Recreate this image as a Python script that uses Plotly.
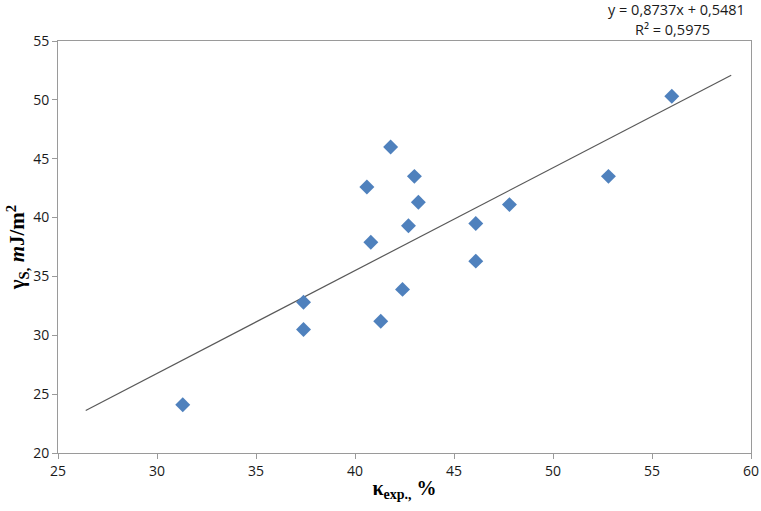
import plotly.graph_objects as go

# Data
kappa_exp = [31.3, 37.4, 37.4, 40.6, 40.8, 41.3, 41.8, 42.4, 42.7, 43.0, 43.2, 46.1, 46.1, 47.8, 52.8, 56.0]
gamma_s   = [24.1, 30.5, 32.8, 42.6, 37.9, 31.2, 46.0, 33.9, 39.3, 43.5, 41.3, 39.5, 36.3, 41.1, 43.5, 50.3]

# Linear trendline as displayed
slope = 0.8737
intercept = 0.5481
r2 = 0.5975
trend_x = [26.4, 59.0]
trend_y = [slope * x + intercept for x in trend_x]

x_ticks = [25, 30, 35, 40, 45, 50, 55, 60]
y_ticks = [20, 25, 30, 35, 40, 45, 50, 55]

fig = go.Figure()
fig.add_trace(go.Scatter(
    x=trend_x, y=trend_y, mode="lines",
    line=dict(color="#595959", width=1.2),
    hoverinfo="skip", showlegend=False))
fig.add_trace(go.Scatter(
    x=kappa_exp, y=gamma_s, mode="markers",
    marker=dict(symbol="diamond", size=11.5, color="#4F81BD", line=dict(width=0)),
    showlegend=False))

axis_common = dict(
    showgrid=False, zeroline=False, showline=True, linecolor="#9A9A9A", linewidth=1,
    mirror=True, ticks="outside", ticklen=5, tickcolor="#9A9A9A", automargin=False,
    ticklabeloverflow="allow",
    tickfont=dict(family="Open Sans, sans-serif", size=14, color="#1a1a1a"),
)

fig.update_layout(
    width=761, height=511,
    margin=dict(l=58, r=10, t=41, b=58),
    paper_bgcolor="white", plot_bgcolor="white",
    xaxis=dict(range=[25, 60], tickvals=x_ticks, **axis_common,
               title=dict(text="<b>κ<sub>exp.,</sub> %</b>",
                          font=dict(family="Liberation Serif, serif", size=20, color="black"),
                          standoff=2)),
    yaxis=dict(range=[20, 55], tickvals=y_ticks, **axis_common,
               title=dict(text="<b>γ<sub>S,</sub> <i>m</i>J/m<sup>2</sup></b>",
                          font=dict(family="Liberation Serif, serif", size=21, color="black"),
                          standoff=2)),
    annotations=[
        dict(text=f"y = {slope:.4f}x + {intercept:.4f}".replace(".", ","),
             xref="paper", yref="paper", x=0.893, y=1.0, yshift=31.5,
             showarrow=False, xanchor="center", yanchor="middle",
             font=dict(family="Open Sans, sans-serif", size=14.5, color="#1a1a1a")),
        dict(text=f"R² = {r2:.4f}".replace(".", ","),
             xref="paper", yref="paper", x=0.887, y=1.0, yshift=12,
             showarrow=False, xanchor="center", yanchor="middle",
             font=dict(family="Open Sans, sans-serif", size=14.5, color="#1a1a1a")),
    ],
)

# remove the browser's default body margin so the 761x511 figure fills the window
fig.write_html("out.html",
               config={"displayModeBar": False},
               post_script="document.body.style.margin='0';document.body.style.overflow='hidden';")
